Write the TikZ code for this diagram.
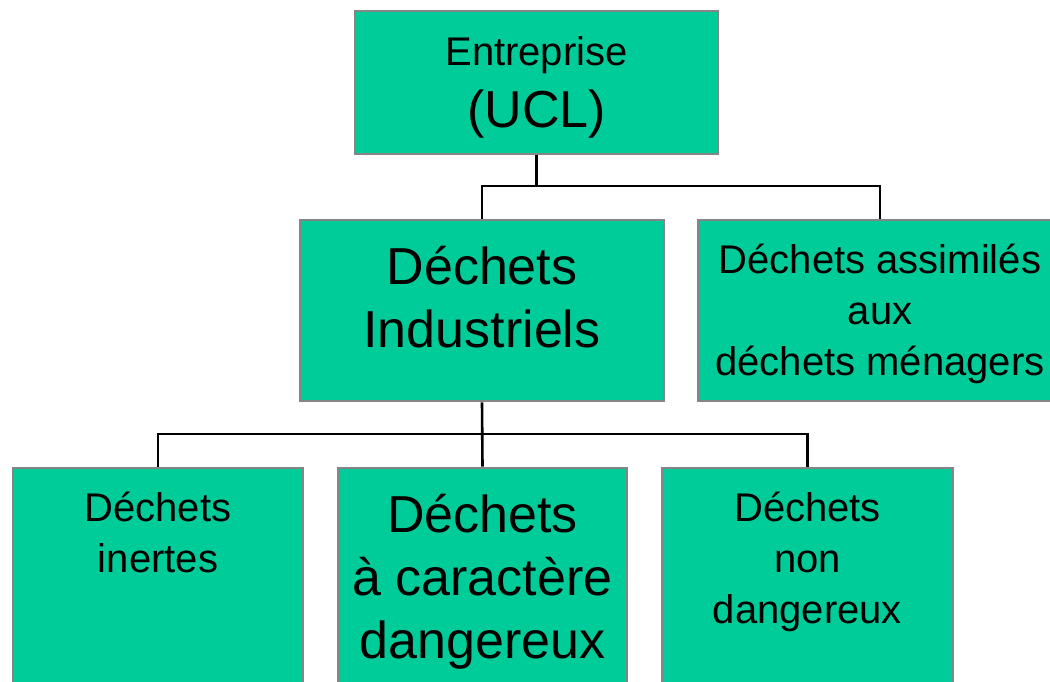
\documentclass[tikz,border=0pt]{standalone}
\usepackage{fontspec}
\setmainfont{Liberation Sans}
\definecolor{boxfill}{HTML}{00CC99}
\definecolor{boxline}{HTML}{858585}
\begin{document}
\begin{tikzpicture}[x=1pt,y=-1pt,
  box/.style={draw=boxline,fill=boxfill,line width=2.6pt,rectangle,inner sep=0pt},
  small/.style={anchor=base,inner sep=0pt,font=\fontsize{40}{48}\selectfont},
  big/.style={anchor=base,inner sep=0pt,font=\fontsize{52}{62}\selectfont},
  conn/.style={draw=black,line width=2.6pt}]
\useasboundingbox (0,0) rectangle (1050,681);
\clip (0,0) rectangle (1050,681);
% boxes
\node[box,minimum width=363pt,minimum height=143pt] (top) at (536.5,82.5) {};
\node[box,minimum width=364pt,minimum height=181pt] (ind) at (482,310.5) {};
\node[box,minimum width=364pt,minimum height=181pt] (ass) at (880,310.5) {};
\node[box,minimum width=290pt,minimum height=220pt] (ine) at (158,578) {};
\node[box,minimum width=289pt,minimum height=220pt] (dan) at (482.5,578) {};
\node[box,minimum width=291pt,minimum height=220pt] (non) at (807.5,578) {};
% connectors
\coordinate (j1) at (536.5,186);
\coordinate (j2) at (482,434);
\draw[conn] (top.south) -- (j1);
\draw[conn] (ind.north) |- (j1) -| (ass.north);
\draw[conn] (ind.south) -- (dan.north);
\draw[conn] (ine.north) |- (j2) -| (non.north);
% texts
\node[small] (t1) at (536.5,65) {Entreprise};
\node[big] (t2) at (536.5,127) {(UCL)};
\node[big] (i1) at (482,284) {Déchets};
\node[big] (i2) at (482,347) {Industriels};
\node[small] (a1) at (880,273) {Déchets assimilés};
\node[small] (a2) at (880,324) {aux};
\node[small] (a3) at (880,375) {déchets ménagers};
\node[small] (n1) at (158,521) {Déchets};
\node[small] (n2) at (158,572) {inertes};
\node[big] (d1) at (482.5,532) {Déchets};
\node[big] (d2) at (482.5,595) {à caractère};
\node[big] (d3) at (482.5,658) {dangereux};
\node[small] (o1) at (807.5,521) {Déchets};
\node[small] (o2) at (807.5,572) {non};
\node[small] (o3) at (807.5,623) {dangereux};
\end{tikzpicture}
\end{document}
